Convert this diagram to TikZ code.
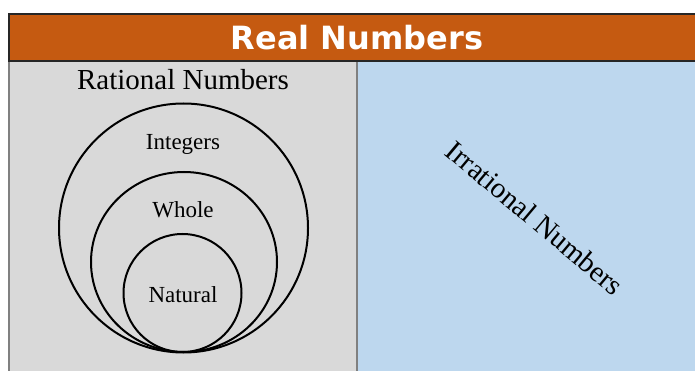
\documentclass[tikz,border=0pt]{standalone}
\usepackage{fontspec}
\setmainfont{Liberation Serif}
\newfontfamily\headfont{DejaVu Sans}
\definecolor{headorange}{HTML}{C55A11}
\definecolor{ratgray}{HTML}{D9D9D9}
\definecolor{irrblue}{HTML}{BDD7EE}

\begin{document}
\begin{tikzpicture}[x=1pt, y=-1pt, every node/.style={inner sep=0pt}, ring/.style={draw=black,line width=2pt}, setlabel/.style={anchor=base,font=\fontsize{23}{25}\selectfont}, paneltitle/.style={font=\fontsize{29}{31}\selectfont}]
\useasboundingbox (0,0) rectangle (695,371);
% panels
\fill[ratgray] (9,61) rectangle (357,380);
\fill[irrblue] (357,61) rectangle (700,380);
\draw[black!50,line width=1.5pt] (9,61) -- (9,380);
\draw[black!50,line width=1.5pt] (357,61) -- (357,380);
\draw[fill=headorange,draw=black!85,line width=1.5pt] (9,14) rectangle (700,61);
\node[font=\headfont\bfseries\fontsize{32}{34}\selectfont,text=white] (real) at (357,38) {Real Numbers};
% rational side
\node[paneltitle,anchor=base] (rational) at (183,90) {Rational Numbers};
\draw[ring] (183.5,228) circle (124.5);
\draw[ring] (184,262) ellipse (93 and 90);
\draw[ring] (182.5,293) circle (59);
\node[setlabel] (integers) at (183,150) {Integers};
\node[setlabel] (whole) at (183,218) {Whole};
\node[setlabel] (natural) at (183,302) {Natural};
% irrational side
\node[paneltitle,rotate=-40] (irrational) at (535,218) {Irrational Numbers};
\end{tikzpicture}
\end{document}
